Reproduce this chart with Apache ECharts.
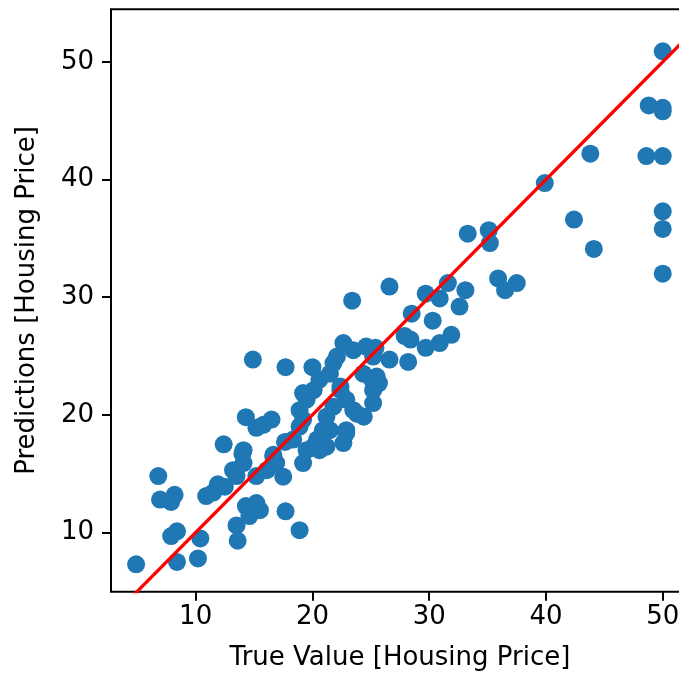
<!DOCTYPE html>
<html>
<head>
<meta charset="utf-8">
<script src="https://cdn.jsdelivr.net/npm/echarts@6/dist/echarts.min.js"></script>
<style>
  html, body { margin: 0; padding: 0; background: #fff; overflow: hidden; }
  #main { width: 700px; height: 677px; }
</style>
</head>
<body>
<div id="main"></div>
<script>
// true value vs predicted value
var trueValues = [
  50.0, 48.8, 50.0, 50.0, 43.8, 48.6, 50.0, 39.9, 42.4, 44.1,
  50.0, 50.0, 50.0, 37.5, 36.5, 35.9, 33.3, 35.1, 35.2, 26.6,
  29.7, 31.6, 30.9, 33.1, 32.6, 28.5, 30.3, 27.9, 28.4, 29.7,
  30.9, 31.9, 25.4, 26.6, 28.2, 25.7, 23.4,
  4.9, 8.4, 10.2, 8.4, 7.9, 10.4, 6.8, 6.95, 8.2, 7.9,
  12.4, 14.0, 10.9, 11.9, 13.5, 13.6, 14.3, 15.2, 15.5, 14.6,
  11.5, 12.5, 13.5, 13.2, 14.1, 15.2, 16.1, 16.9, 17.5, 16.65,
  17.7, 18.9, 14.9, 17.7, 20.0, 14.3, 15.2, 16.5, 15.8, 14.1,
  17.65, 18.35, 18.9, 19.5, 19.2, 20.1, 20.6, 21.2, 18.9, 19.5,
  20.1, 19.2, 20.6, 21.5, 21.8, 22.65, 23.5, 24.6, 25.2, 22.4,
  22.9, 23.5, 24.4, 25.2, 25.1, 24.35, 22.9, 22.65, 21.5, 20.4,
  21.8, 21.2, 22.1, 20.9, 19.2, 25.2, 22.4, 25.5, 23.8, 22.9,
  16.65
];
var predictions = [
  50.9, 46.3, 46.1, 45.8, 42.2, 42.0, 42.0, 39.7, 36.6, 34.1,
  37.3, 35.8, 32.0, 31.2, 30.6, 31.6, 35.4, 35.7, 34.6, 30.9,
  30.3, 31.2, 29.9, 30.6, 29.2, 28.6, 28.0, 26.7, 26.4, 25.7,
  26.1, 26.8, 25.7, 24.7, 24.5, 22.7, 29.7,
  7.3, 7.5, 7.8, 10.1, 9.7, 9.5, 14.8, 12.8, 13.2, 12.6,
  17.5, 16.7, 13.1, 14.1, 10.6, 9.3, 12.25, 12.5, 11.9, 11.4,
  13.4, 13.9, 14.8, 15.3, 15.9, 14.8, 15.3, 15.9, 14.75, 16.6,
  11.8, 10.2, 24.7, 24.05, 24.05, 19.8, 18.9, 19.6, 19.15, 17.0,
  17.7, 17.9, 19.0, 17.0, 15.9, 17.3, 17.0, 17.3, 20.4, 21.3,
  22.1, 21.85, 23.0, 23.5, 24.4, 26.1, 25.5, 25.8, 24.95, 22.1,
  21.3, 20.4, 19.85, 22.1, 23.0, 23.5, 18.7, 17.6, 18.7, 17.9,
  20.7, 19.85, 24.95, 18.7, 19.6, 21.0, 22.4, 23.25, 20.1, 18.45,
  16.45
];
var tickValues = [10, 20, 30, 40, 50];
var diagonal = [[0, 0], [60, 60]];

var points = [];
for (var i = 0; i < trueValues.length; i++) {
  points.push([trueValues[i], predictions[i]]);
}

var font = "DejaVu Sans";
var chart = echarts.init(document.getElementById("main"));
// the axes box runs past the right edge of the 679px window, like the reference
chart.setOption({
  animation: false,
  grid: {
    left: 111,
    top: 9.3,
    right: 11,
    bottom: 85.3,
    show: true,
    borderColor: "#000",
    borderWidth: 2,
  },
  xAxis: {
    type: "value",
    min: 2.75,
    max: 52.25,
    name: "True Value [Housing Price]",
    nameLocation: "middle",
    nameGap: 54,
    nameTextStyle: { color: "#000", fontFamily: font, fontSize: 26 },
    axisLine: { show: false },
    splitLine: { show: false },
    axisTick: {
      show: true,
      length: 9,
      customValues: tickValues,
      lineStyle: { color: "#000", width: 2 },
    },
    axisLabel: {
      customValues: tickValues,
      color: "#000",
      fontFamily: font,
      fontSize: 26,
      margin: 13,
    },
  },
  yAxis: {
    type: "value",
    min: 4.97,
    max: 54.47,
    name: "Predictions [Housing Price]",
    nameLocation: "middle",
    nameGap: 71,
    nameTextStyle: { color: "#000", fontFamily: font, fontSize: 26 },
    axisLine: { show: false },
    splitLine: { show: false },
    axisTick: {
      show: true,
      length: 9,
      customValues: tickValues,
      lineStyle: { color: "#000", width: 2 },
    },
    axisLabel: {
      customValues: tickValues,
      color: "#000",
      fontFamily: font,
      fontSize: 26,
      margin: 17,
    },
  },
  series: [
    {
      type: "scatter",
      data: points,
      symbolSize: 18,
      itemStyle: { color: "#1f77b4", opacity: 1 },
    },
    {
      type: "line",
      data: diagonal,
      showSymbol: false,
      clip: true,
      lineStyle: { color: "#ff0000", width: 3.3 },
    },
  ],
});
</script>
</body>
</html>
